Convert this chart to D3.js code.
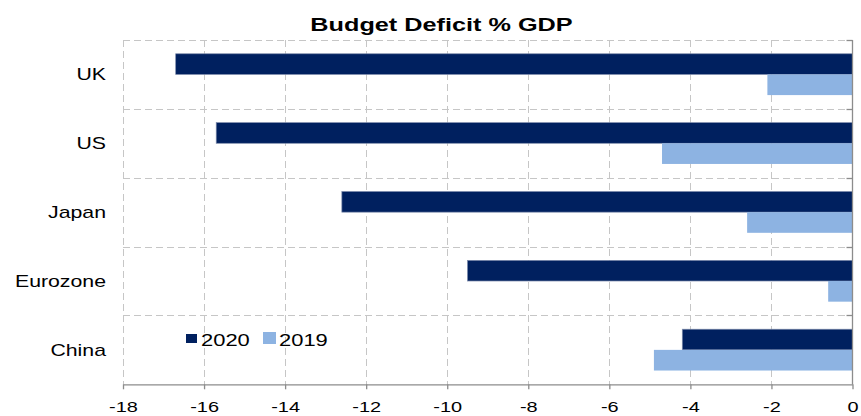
<!DOCTYPE html>
<html>
<head>
<meta charset="utf-8">
<script src="https://cdn.jsdelivr.net/npm/d3@7"></script>
<style>
  html, body { margin: 0; padding: 0; background: #fff; }
  svg { display: block; font-family: "Liberation Sans", Arial, sans-serif; }
</style>
</head>
<body>
<svg id="chart" width="861" height="416"></svg>
<script>
// Budget deficit as % of GDP, by economy
const categories = ["UK", "US", "Japan", "Eurozone", "China"];
const seriesNames = ["2020", "2019"];
const values2020 = [-16.7, -15.7, -12.6, -9.5, -4.2];
const values2019 = [-2.1, -4.7, -2.6, -0.6, -4.9];
const xTicks = [-18, -16, -14, -12, -10, -8, -6, -4, -2, 0];
const titleText = "Budget Deficit % GDP";

const colors = { "2020": "#00205F", "2019": "#8DB3E2" };
const SX = 1.33; // horizontal text stretch

const svg = d3.select("#chart");
const plotLeft = 123, plotRight = 852.5, plotTop = 40, plotBottom = 384.3;

const x = d3.scaleLinear().domain([-18, 0]).range([plotLeft, plotRight]);
const y0 = d3.scaleBand().domain(categories).range([plotTop, plotBottom])
  .paddingInner(0.4).paddingOuter(0.2);
const y1 = d3.scaleBand().domain(seriesNames).range([0, y0.bandwidth()]);

const step = y0.step();
const boundaries = d3.range(categories.length + 1).map(i => plotTop + i * step);

// gridlines
const grid = svg.append("g").attr("stroke", "#c6c6c6").attr("stroke-width", 1)
  .attr("stroke-dasharray", "7,4");
grid.selectAll("line.v").data(xTicks.filter(t => t !== 0)).join("line")
  .attr("class", "v")
  .attr("x1", d => Math.round(x(d)) + 0.5).attr("x2", d => Math.round(x(d)) + 0.5)
  .attr("y1", plotTop).attr("y2", plotBottom);
grid.selectAll("line.h").data(boundaries.slice(0, -1)).join("line")
  .attr("class", "h")
  .attr("x1", plotLeft).attr("x2", plotRight)
  .attr("y1", d => Math.round(d) + 0.5).attr("y2", d => Math.round(d) + 0.5);

// bars
const rows = categories.map((c, i) => ({ cat: c, "2020": values2020[i], "2019": values2019[i] }));
const groups = svg.append("g").selectAll("g").data(rows).join("g")
  .attr("transform", d => `translate(0,${y0(d.cat)})`);
groups.selectAll("rect").data(d => seriesNames.map(s => ({ s, v: d[s] }))).join("rect")
  .attr("x", d => x(d.v))
  .attr("width", d => x(0) - x(d.v))
  .attr("y", d => y1(d.s))
  .attr("height", y1.bandwidth())
  .attr("fill", d => colors[d.s])
  .attr("stroke", d => d.s === "2020" ? "#7d8bab" : "none")
  .attr("stroke-width", 0.7);

// bottom axis
const xAxis = svg.append("g")
  .attr("transform", `translate(0,${plotBottom})`)
  .call(d3.axisBottom(x).tickValues(xTicks).tickSize(5).tickSizeOuter(0).tickFormat(d => String(d)));
xAxis.select(".domain").attr("stroke", "#8c8c8c").attr("stroke-width", 1.3);
xAxis.selectAll(".tick line").attr("stroke", "#8c8c8c").attr("stroke-width", 1.3);
xAxis.selectAll(".tick text")
  .attr("y", 28).attr("dy", null)
  .attr("font-size", 15)
  .attr("fill", "#000")
  .attr("font-family", "Liberation Sans, Arial, sans-serif")
  .attr("transform", `scale(${SX},1)`);

// vertical category axis at zero
const yAxisG = svg.append("g");
yAxisG.append("line")
  .attr("x1", x(0)).attr("x2", x(0)).attr("y1", plotTop).attr("y2", plotBottom)
  .attr("stroke", "#8c8c8c").attr("stroke-width", 1.3);
yAxisG.selectAll("line.tk").data(boundaries.slice(0, -1)).join("line")
  .attr("class", "tk")
  .attr("x1", x(0) - 6).attr("x2", x(0))
  .attr("y1", d => Math.round(d) + 0.5).attr("y2", d => Math.round(d) + 0.5)
  .attr("stroke", "#8c8c8c").attr("stroke-width", 1.3);

// category labels
svg.append("g").selectAll("g").data(categories).join("g")
  .attr("transform", d => `translate(106,${y0(d) + y0.bandwidth() / 2 + 6})`)
  .append("text")
  .attr("text-anchor", "end")
  .attr("font-size", 16)
  .attr("fill", "#000")
  .attr("transform", `scale(${SX},1)`)
  .text(d => d);

// title
svg.append("g").attr("transform", "translate(441.5,30.5)")
  .append("text")
  .attr("text-anchor", "middle")
  .attr("font-size", 19)
  .attr("font-weight", "bold")
  .attr("fill", "#000")
  .attr("transform", `scale(${SX},1)`)
  .text(titleText);

// legend
const legendItems = [
  { s: "2020", kx: 186, ky: 334, kw: 11, kh: 9, tx: 201 },
  { s: "2019", kx: 263, ky: 332, kw: 13, kh: 12, tx: 279 }
];
const legend = svg.append("g");
legend.selectAll("rect").data(legendItems).join("rect")
  .attr("x", d => d.kx).attr("y", d => d.ky)
  .attr("width", d => d.kw).attr("height", d => d.kh)
  .attr("fill", d => colors[d.s]);
legend.selectAll("g").data(legendItems).join("g")
  .attr("transform", d => `translate(${d.tx},346)`)
  .append("text")
  .attr("font-size", 16.5)
  .attr("fill", "#000")
  .attr("transform", `scale(${SX},1)`)
  .text(d => d.s);
</script>
</body>
</html>
